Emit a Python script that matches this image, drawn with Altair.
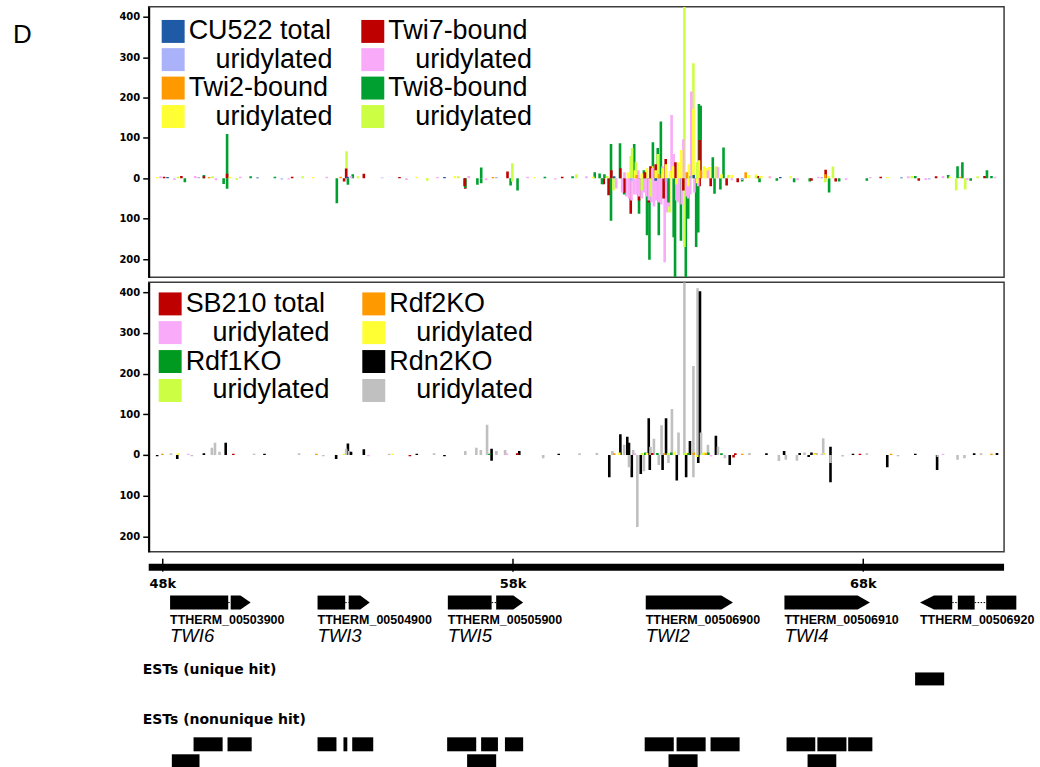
import altair as alt
import pandas as pd

# ---------------- genome coordinates (kb) ----------------
x_domain = [47.60, 72.02]
tick_kb = [48, 58, 68]
tick_labels = ["48k", "58k", "68k"]

# ---------------- panel 1 (CU522 / Twi-bound), (position kb, reads; negative = antisense) ----------------
cu522_total = [(48.00, 3), (50.60, 2), (53.20, 4), (56.00, 3), (60.90, 5), (62.10, -6), (63.20, 8), (65.70, 3), (69.20, 2)]
cu522_uri = [(48.90, 3), (51.30, -3), (54.20, 2), (57.50, 3), (61.40, -6), (62.40, -8), (63.10, 6), (64.60, -4), (66.90, 3), (70.00, -3)]
twi2_bound = [(49.20, 3), (53.00, 4), (57.40, 3), (61.55, 8), (62.20, 10), (63.41, 20), (63.00, 15), (64.70, 15), (67.00, 10), (70.90, 4)]
twi2_uri = [(47.70, 3), (49.80, 4), (52.20, 3), (55.20, 4), (56.30, 6), (58.60, 3), (60.30, 4), (61.30, 15), (61.50, 20),
            (61.70, 12), (61.85, 25), (62.00, 30), (62.10, 20), (62.30, 25), (62.40, 35), (62.52, 18), (62.60, 30),
            (62.75, 40), (62.84, 70), (63.06, 35), (63.04, -20), (63.19, 172), (63.35, 45), (63.50, 30), (63.55, 25),
            (63.65, 28), (63.30, -12), (62.70, -15), (64.00, 10), (64.30, 8), (64.80, 8), (65.00, 10), (65.15, 6),
            (65.40, 5), (66.00, 4), (67.10, 6), (68.80, 3), (70.60, 4)]
twi7_bound = [(47.90, 4), (48.40, 6), (49.05, 5), (49.72, 11), (51.60, 4), (53.16, 24), (53.10, -8), (53.67, 11),
              (54.70, 3), (56.60, -26), (56.58, -20), (57.82, 17), (59.40, 4), (60.60, -15), (60.74, -42), (60.82, 20),
              (61.08, 25), (61.19, -36), (61.38, -88), (61.62, -55), (61.79, 15), (61.90, -60), (61.95, 30),
              (62.10, 35), (62.33, -50), (62.39, 48), (62.67, 40), (62.90, -30), (63.37, 95), (63.37, -20),
              (63.69, -20), (64.15, -18), (64.47, -10), (65.05, 6), (66.60, -6), (67.01, 21), (67.30, -8), (68.60, 4),
              (69.70, -6), (70.20, 5), (71.60, 6)]
twi7_uri = [(47.80, 5), (48.20, -4), (48.80, 6), (49.40, -5), (50.10, 4), (51.50, -3), (52.60, 4), (53.30, 6),
            (54.90, -4), (55.80, 3), (56.70, 6), (57.20, -5), (58.40, 4), (59.20, -3), (60.10, 5), (60.96, -25),
            (61.13, -35), (61.20, 15), (61.25, -45), (61.33, -50), (61.40, -55), (61.48, -40), (61.55, -40),
            (61.60, 20), (61.62, -45), (61.70, -50), (61.76, -35), (61.83, -45), (61.90, -55), (61.98, -60),
            (62.00, 25), (62.05, -70), (62.12, -55), (62.19, -60), (62.26, -65), (62.30, 30), (62.36, -208),
            (62.42, -85), (62.48, -70), (62.56, 157), (62.62, 60), (62.70, -55), (62.76, -60), (62.85, -65),
            (62.90, 97), (62.98, -45), (63.04, -50), (63.10, -40), (63.13, 215), (63.22, -35), (63.33, -20),
            (63.61, 20), (63.90, 28), (64.30, -5), (65.40, 5), (66.20, -5), (66.80, 4), (67.60, -4), (68.30, 3),
            (69.40, 5), (69.90, -4), (70.40, 6), (71.10, -5), (71.90, 4)]
twi8_bound = [(48.50, -10), (49.05, 8), (49.62, -14), (49.72, 110), (49.72, -26), (50.40, 5), (51.10, 4), (52.89, -62),
              (53.21, -16), (53.35, 10), (56.60, -24), (56.95, -16), (57.06, 27), (57.06, -12), (57.91, -18),
              (58.11, -30), (58.90, 4), (59.70, 5), (60.34, 15), (60.48, 12), (60.55, -15), (60.62, 10), (60.81, 85),
              (60.81, -105), (61.07, 87), (61.19, -40), (61.48, 85), (61.62, -88), (61.76, 20), (61.85, -141),
              (61.92, -202), (62.02, 89), (62.16, 75), (62.19, -141), (62.25, 141), (62.47, -60), (62.62, -146),
              (62.66, -245), (62.83, -155), (62.97, -245), (63.04, -100), (63.27, -170), (63.33, -134), (63.35, 184),
              (63.40, 180), (63.75, 52), (63.80, -38), (63.97, -28), (64.06, 76), (64.60, -8), (65.10, -10),
              (65.60, -6), (66.10, -10), (66.55, -8), (67.11, -35), (67.40, -8), (68.20, -6), (69.60, 6), (70.55, 8),
              (70.82, 30), (70.96, 40), (71.20, -6), (71.67, 20), (71.80, 6)]
twi8_uri = [(48.30, 4), (49.30, 5), (50.00, -4), (51.90, 5), (53.17, 67), (53.50, 5), (55.50, -6), (56.40, 5),
            (57.96, 37), (57.96, -8), (59.81, 10), (60.70, 6), (60.88, -30), (61.38, 55), (61.42, 75), (61.53, 40),
            (61.70, -30), (61.96, -45), (62.16, 60), (62.50, -85), (62.93, 425), (62.93, -170), (63.19, 285),
            (63.30, 40), (63.84, 30), (64.20, 8), (65.00, 6), (66.00, 5), (67.22, 29), (67.00, -10), (69.50, 6),
            (70.78, -30), (71.04, -28), (71.40, 5)]

# legend columns are filled top-to-bottom: column 1 then column 2
top_series = {
    "CU522 total": cu522_total, "CU522 uridylated": cu522_uri,
    "Twi2-bound": twi2_bound, "Twi2 uridylated": twi2_uri,
    "Twi7-bound": twi7_bound, "Twi7 uridylated": twi7_uri,
    "Twi8-bound": twi8_bound, "Twi8 uridylated": twi8_uri,
}
top_order = list(top_series.keys())
top_colors = ["#1f5aa6", "#aab2fa", "#ff9900", "#ffff33", "#bf0000", "#f9aaf9", "#00a030", "#ccff44"]

# ---------------- panel 2 (SB210 / knockouts) ----------------
sb210_total = [(49.90, 3), (55.00, -3), (58.10, 4), (62.00, 5), (64.35, -6), (64.40, 4), (68.00, 3)]
sb210_uri = [(48.60, 3), (53.80, -3), (57.80, 4), (61.50, 4), (63.70, -4), (66.90, 3), (70.40, 3)]
rdf1 = [(57.30, 3), (61.80, 6), (62.15, 5), (62.55, 6), (63.05, 5), (63.62, 6), (64.00, 4)]
rdf1_uri = [(53.10, 3), (61.70, 5), (62.45, 4), (62.95, 5), (63.45, 4), (66.95, 5)]
rdf2 = [(47.85, 3), (52.30, 3), (60.90, 4), (62.35, 4), (63.20, 6), (63.55, 4), (64.60, 3), (66.70, 4), (68.90, 3), (71.80, 3)]
rdf2_uri = [(48.30, 4), (54.50, 3), (61.05, 6), (61.85, 5), (62.65, 8), (63.00, 6), (63.30, -5), (63.50, 7), (66.70, 3)]
rdn2 = [(47.70, -3), (48.28, -10), (49.05, 4), (49.68, 30), (50.80, 3), (52.87, -10), (53.21, 28), (53.30, 8),
        (53.67, 14), (55.20, 3), (56.00, -3), (57.36, -14), (57.36, 15), (58.16, 10), (59.30, 3), (60.76, -55),
        (61.08, 51), (61.28, 45), (61.33, 30), (61.41, -55), (61.67, -47), (61.90, 90), (61.93, -37), (62.30, -37),
        (62.40, 90), (62.71, -63), (62.98, -55), (63.09, 34), (63.33, -20), (63.38, 403), (63.84, 47), (64.24, -25),
        (65.30, 4), (65.81, 10), (66.26, 5), (66.52, -5), (66.60, 6), (67.15, -67), (67.15, 20), (67.80, 3),
        (68.79, -30), (69.60, 3), (70.23, -37), (71.30, 4), (71.96, 5)]
rdn2_uri = [(48.10, 4), (48.70, -3), (49.28, 18), (49.37, 30), (49.50, 8), (50.50, 3), (51.80, 4), (52.50, -3),
            (53.16, 15), (53.25, 10), (54.40, 3), (55.70, 4), (56.60, 10), (56.92, 18), (57.05, 12), (57.23, 74),
            (57.50, 10), (57.75, 12), (58.85, -8), (59.90, 4), (60.40, 5), (60.85, 10), (61.19, 25), (61.33, -30),
            (61.45, 12), (61.57, -177), (61.76, -40), (61.95, 20), (62.05, 40), (62.19, -25), (62.27, 73),
            (62.47, -20), (62.57, 113), (62.76, 55), (62.93, 425), (63.19, 219), (63.19, -55), (63.31, 410),
            (63.41, 55), (63.61, 25), (63.90, 20), (64.10, -8), (64.81, 5), (65.66, -15), (65.86, -12), (66.18, -14),
            (66.40, 6), (66.75, 5), (66.94, 41), (67.15, -20), (67.50, -4), (68.20, 4), (69.10, -3), (70.25, -5),
            (70.82, -12), (71.02, -8), (71.50, 4)]

bot_series = {
    "SB210 total": sb210_total, "SB210 uridylated": sb210_uri,
    "Rdf1KO": rdf1, "Rdf1KO uridylated": rdf1_uri,
    "Rdf2KO": rdf2, "Rdf2KO uridylated": rdf2_uri,
    "Rdn2KO": rdn2, "Rdn2KO uridylated": rdn2_uri,
}
bot_order = list(bot_series.keys())
bot_colors = ["#bf0000", "#f9aaf9", "#009a20", "#ccff44", "#ff9900", "#ffff33", "#000000", "#c0c0c0"]

# ---------------- gene models ----------------
gene_ids = ["TTHERM_00503900", "TTHERM_00504900", "TTHERM_00505900", "TTHERM_00506900", "TTHERM_00506910", "TTHERM_00506920"]
gene_names = ["TWI6", "TWI3", "TWI5", "TWI2", "TWI4", ""]
gene_strand = ["+", "+", "+", "+", "+", "-"]
gene_exons = [
    [(48.21, 49.87), (49.94, 50.51)],
    [(52.42, 53.21), (53.31, 53.91)],
    [(56.14, 57.39), (57.52, 58.29)],
    [(61.79, 64.28)],
    [(65.75, 68.19)],
    [(69.62, 70.54), (70.70, 71.18), (71.51, 72.37)],
]
gene_head_base = [50.22, 53.64, 58.01, 63.95, 67.84, 70.02]

# ---------------- ESTs ----------------
est_unique = [(69.48, 70.31)]
est_nonunique_row1 = [(48.88, 49.71), (49.85, 50.54), (52.42, 52.96), (53.16, 53.27), (53.41, 54.01), (56.12, 56.95),
                      (57.09, 57.57), (57.77, 58.29), (61.76, 62.59), (62.67, 63.50), (63.64, 64.47), (65.81, 66.63),
                      (66.69, 67.52), (67.57, 68.26)]
est_nonunique_row2 = [(48.26, 49.05), (56.69, 57.52), (62.44, 63.27), (66.41, 67.23)]

# ================= chart building =================
W = 857
XS = alt.Scale(domain=x_domain, nice=False, zero=False)
# zero-width space first so that the en-space indent survives label trimming
LAB_EXPR = "indexof(datum.label, 'uridylated') >= 0 ? '\u200b\u2002\u2002uridylated' : datum.label"


def spike_chart(series, order, colors, y_domain, height, lx, ly, col_pad, row_pad):
    rows = []
    for name in order:
        for pos, val in series[name]:
            rows.append({"series": name, "pos": pos, "val": val, "base": 0, "mag": abs(val)})
    df = pd.DataFrame(rows).sort_values("mag", ascending=False, kind="stable")
    return alt.Chart(df).mark_bar(width=2.6, clip=True).encode(
        x=alt.X("pos:Q", scale=XS, axis=None),
        y=alt.Y("val:Q", scale=alt.Scale(domain=y_domain, nice=False, zero=False),
                axis=alt.Axis(values=[-200, -100, 0, 100, 200, 300, 400],
                              labelExpr="format(abs(datum.value), 'd')", title=None, grid=False,
                              labelFont="DejaVu Sans", labelFontWeight="bold", labelFontSize=10,
                              labelColor="black", tickSize=6, tickWidth=1.5, tickColor="black",
                              labelPadding=3, domainColor="black", domainWidth=2)),
        y2="base:Q",
        color=alt.Color("series:N", scale=alt.Scale(domain=order, range=colors),
                        legend=alt.Legend(orient="none", legendX=lx, legendY=ly, columns=2, title=None,
                                          symbolType="square", symbolSize=529, symbolStrokeWidth=0,
                                          symbolOpacity=1, labelFont="Liberation Sans", labelFontSize=27,
                                          labelColor="black", labelOffset=2, labelLimit=400,
                                          columnPadding=col_pad, rowPadding=row_pad, padding=0,
                                          labelExpr=LAB_EXPR)),
    ).properties(width=W, height=height)


top_bars = spike_chart(top_series, top_order, top_colors, [-245, 425], 271, 11, 11, 26, 0.5)
panel_letter = alt.Chart(pd.DataFrame({"t": ["D"]})).mark_text(
    align="left", baseline="alphabetic", fontSize=26, font="Liberation Sans", color="black"
).encode(x=alt.value(-136), y=alt.value(36), text="t:N")
top_chart = alt.layer(top_bars, panel_letter)

bot_chart = spike_chart(bot_series, bot_order, bot_colors, [-238, 425], 270, 8, 8, 30, 1)

# ---- gene track (y in pixels from top of track) ----
GENE_MID, GENE_HALF = 47, 7
pts, introns = [], []
for gi, exons in enumerate(gene_exons):
    strand = gene_strand[gi]
    head = gene_head_base[gi]
    for ei, (a, b) in enumerate(exons):
        key = f"{gi}-{ei}"
        if strand == "+" and ei == len(exons) - 1:
            shape = [(a, GENE_HALF), (head, GENE_HALF), (b, 0)]
        elif strand == "-" and ei == 0:
            shape = [(a, 0), (head, GENE_HALF), (b, GENE_HALF)]
        else:
            shape = [(a, GENE_HALF), (b, GENE_HALF)]
        for xk, h in shape:
            pts.append({"part": key, "pos": xk, "top": GENE_MID - h, "bot": GENE_MID + h})
        if ei > 0:
            introns.append({"a": exons[ei - 1][1], "b": a})
pts_df = pd.DataFrame(pts)
intr_df = pd.DataFrame(introns)
glab_df = pd.DataFrame({"pos": [e[0][0] for e in gene_exons], "id": gene_ids, "name": gene_names})

gene_area = alt.Chart(pts_df).mark_area(color="black", orient="vertical", interpolate="linear").encode(
    x=alt.X("pos:Q", scale=XS, axis=None),
    y=alt.Y("top:Q", scale=None), y2="bot:Q", detail="part:N")
intron_rule = alt.Chart(intr_df).mark_rule(color="black", strokeWidth=1, strokeDash=[1.5, 1.5]).encode(
    x=alt.X("a:Q", scale=XS, axis=None), x2="b:Q", y=alt.value(GENE_MID))
gene_id_text = alt.Chart(glab_df).mark_text(align="left", baseline="alphabetic", font="Liberation Sans",
                                            fontWeight="bold", fontSize=12.5, color="black").encode(
    x=alt.X("pos:Q", scale=XS, axis=None), y=alt.value(68), text="id:N")
gene_name_text = alt.Chart(glab_df).mark_text(align="left", baseline="alphabetic", font="Liberation Sans",
                                              fontStyle="italic", fontSize=18.5, color="black").encode(
    x=alt.X("pos:Q", scale=XS, axis=None), y=alt.value(86), text="name:N")

bar_df = pd.DataFrame({"a": [x_domain[0]], "b": [x_domain[1]]})
scale_bar = alt.Chart(bar_df).mark_rect(color="black").encode(
    x=alt.X("a:Q", scale=XS, axis=None), x2="b:Q", y=alt.value(8), y2=alt.value(15))
tick_df = pd.DataFrame({"pos": tick_kb, "lab": tick_labels})
tick_rules = alt.Chart(tick_df).mark_rule(color="black", strokeWidth=1.5).encode(
    x=alt.X("pos:Q", scale=XS, axis=None), y=alt.value(3), y2=alt.value(16))
tick_text = alt.Chart(tick_df).mark_text(align="center", baseline="alphabetic", font="DejaVu Sans",
                                         fontWeight="bold", fontSize=13, color="black").encode(
    x=alt.X("pos:Q", scale=XS, axis=None), y=alt.value(32), text="lab:N")

est_rows = []
for track, lst in [("unique", est_unique), ("row1", est_nonunique_row1), ("row2", est_nonunique_row2)]:
    for a, b in lst:
        est_rows.append({"track": track, "a": a, "b": b})
est_df = pd.DataFrame(est_rows)
track_y = {"unique": (117, 130), "row1": (182, 196), "row2": (199, 212)}
est_df["top"] = est_df["track"].map(lambda t: track_y[t][0])
est_df["bot"] = est_df["track"].map(lambda t: track_y[t][1])
est_rects = alt.Chart(est_df).mark_rect(color="black").encode(
    x=alt.X("a:Q", scale=XS, axis=None), x2="b:Q", y=alt.Y("top:Q", scale=None), y2="bot:Q")

est_lab_df = pd.DataFrame({"label": ["ESTs (unique hit)"]})
est_lab2_df = pd.DataFrame({"label": ["ESTs (nonunique hit)"]})
est_lab1 = alt.Chart(est_lab_df).mark_text(align="left", baseline="alphabetic", font="DejaVu Sans",
                                           fontWeight="bold", fontSize=14, color="black").encode(
    x=alt.value(-6), y=alt.value(119), text="label:N")
est_lab2 = alt.Chart(est_lab2_df).mark_text(align="left", baseline="alphabetic", font="DejaVu Sans",
                                            fontWeight="bold", fontSize=14, color="black").encode(
    x=alt.value(-6), y=alt.value(169), text="label:N")

track_chart = alt.layer(scale_bar, tick_rules, tick_text, gene_area, intron_rule, gene_id_text, gene_name_text,
                        est_lab1, est_lab2, est_rects).properties(
    width=W, height=214, view=alt.ViewBackground(strokeOpacity=0, strokeWidth=0))

chart = alt.vconcat(top_chart, bot_chart, track_chart, spacing=3).resolve_scale(
    color="independent", x="independent").resolve_legend(color="independent").properties(
    padding={"left": 12, "top": 5, "right": 5, "bottom": 0}, background="white"
).configure_view(stroke="#3c3c3c", strokeWidth=1.5)

chart.save("out.html", embed_options={"renderer": "svg", "actions": False})
